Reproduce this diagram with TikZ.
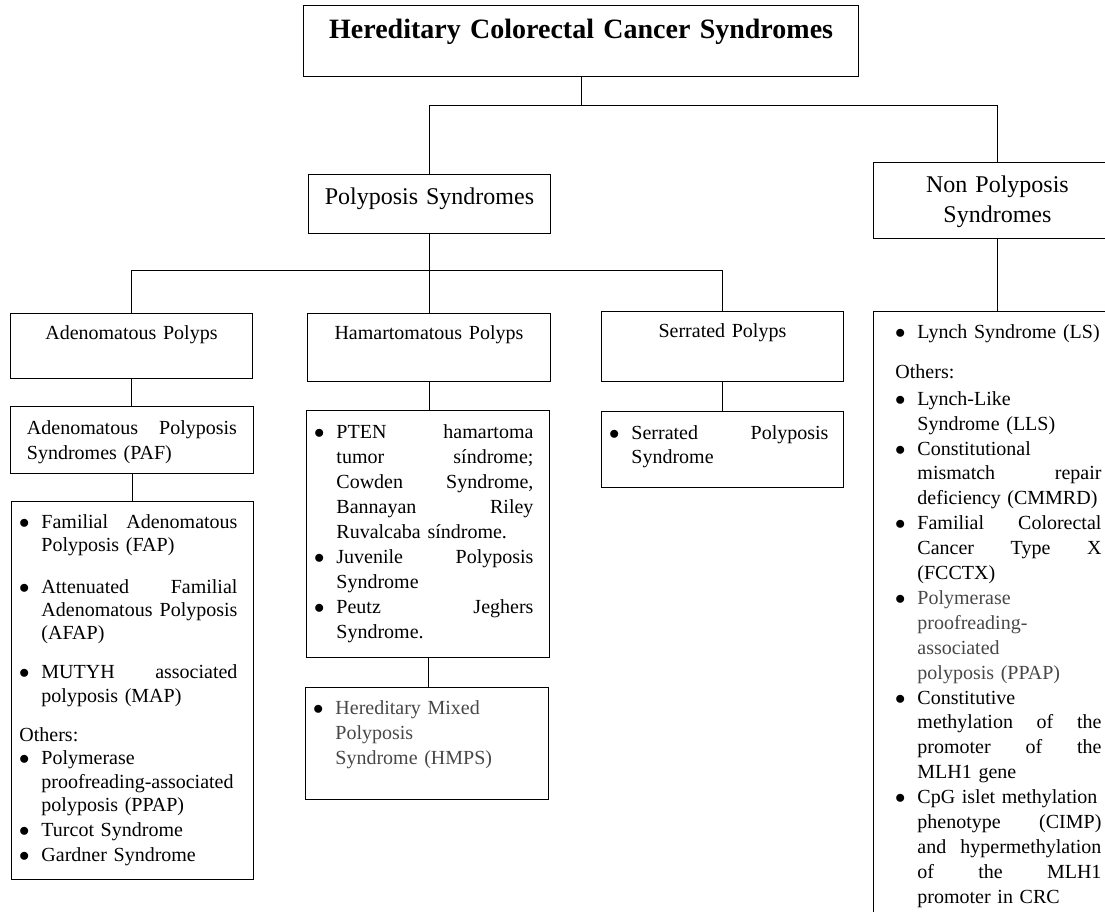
\documentclass[tikz,border=0pt]{standalone}
\usepackage{fontspec}
\setmainfont{Liberation Serif}
\usetikzlibrary{calc}

\definecolor{softtext}{gray}{0.28}
\newcommand{\bul}{\leavevmode\llap{\textcolor{black}{$\bullet$}\hspace{12pt}}}
\newcommand{\others}{\hspace*{-22pt}}
\newcommand{\setlistindent}[1]{\leftskip=#1\relax\hyphenpenalty=10000\exhyphenpenalty=10000\relax}

\tikzset{
  box/.style={draw, line width=0.9pt, anchor=north west, inner ysep=0pt,
    font=\fontsize{20}{25}\selectfont},
  headbox/.style={box, align=center, inner xsep=5pt},
  listbox/.style={box, align=left},
  link/.style={line width=0.9pt},
}

\begin{document}
\begin{tikzpicture}[x=1pt, y=-1pt]
        \useasboundingbox (0,0) rectangle (1105,912);

        % top levels
        \node[headbox, line width=1.2pt, text width=545pt, font=\fontsize{28}{32}\selectfont\bfseries,
          text height=33pt, text depth=38pt] (title) at (303,5) {Hereditary Colorectal Cancer Syndromes};
        \node[headbox, text width=232pt, font=\fontsize{24}{30}\selectfont,
          text height=30pt, text depth=29pt] (poly) at (308,174) {Polyposis Syndromes};
        \node[headbox, text width=238pt, font=\fontsize{24}{30}\selectfont,
          text height=30pt, text depth=46pt] (nonpoly) at (873,162) {Non Polyposis\\Syndromes};

        % polyp types
        \node[headbox, text width=232pt, text height=26pt, text depth=39pt] (adeno) at (10,313) {Adenomatous Polyps};
        \node[headbox, text width=233pt, text height=26pt, text depth=42pt] (hamar) at (307,313) {Hamartomatous Polyps};
        \node[headbox, text width=232pt, text height=26pt, text depth=44pt] (serr) at (601,311) {Serrated Polyps};

        \node[listbox, inner xsep=16.5pt, text width=210pt, text height=28pt, text depth=39pt] (paf) at (10,406)
          {Adenomatous\hfill Polyposis\\Syndromes (PAF)};

        % lists
        \node[listbox, inner xsep=16pt, text width=210pt, font=\fontsize{20}{23.3}\selectfont,
          text height=27pt, text depth=351pt] (adlist) at (11,501) {\setlistindent{14pt}%
          \bul Familial\hfill Adenomatous\\
          Polyposis (FAP)\\[18pt]
          \bul Attenuated\hfill Familial\\
          Adenomatous\hfill Polyposis\\
          (AFAP)\\[16pt]
          \bul MUTYH\hfill associated\\
          polyposis (MAP)\\[16pt]
          \others Others:\\
          \bul Polymerase\\
          proofreading-associated\\
          polyposis (PPAP)\\[1.5pt]
          \bul Turcot Syndrome\\[1.5pt]
          \bul Gardner Syndrome\par};

        \node[listbox, inner xsep=16pt, text width=211pt, text height=28pt, text depth=219pt] (pten) at (306,410)
          {\setlistindent{14pt}%
          \bul PTEN\hfill hamartoma\\
          tumor\hfill síndrome;\\
          Cowden\hfill Syndrome,\\
          Bannayan\hfill Riley\\
          Ruvalcaba síndrome.\\
          \bul Juvenile\hfill Polyposis\\
          Syndrome\\
          \bul Peutz\hfill Jeghers\\
          Syndrome.\par};

        \node[listbox, inner xsep=16pt, text width=211pt, text height=27pt, text depth=85pt, text=softtext] (hmps) at (305,687)
          {\setlistindent{14pt}%
          \bul Hereditary Mixed\\
          Polyposis\\
          Syndrome (HMPS)\par};

        \node[listbox, inner xsep=15pt, text width=212pt, font=\fontsize{20}{24.5}\selectfont,
          text height=28pt, text depth=48pt] (serlist) at (601,411)
          {\setlistindent{15pt}%
          \bul Serrated\hfill Polyposis\\
          Syndrome\par};

        \node[listbox, inner xsep=20pt, text width=208pt, font=\fontsize{20}{24.9}\selectfont,
          text height=27pt, text depth=622pt] (nplist) at (873,311)
          {\setlistindent{24pt}%
          \bul Lynch Syndrome (LS)\\[15pt]
          \others Others:\\[2pt]
          \bul Lynch-Like\\
          Syndrome (LLS)\\
          \bul Constitutional\\
          mismatch\hfill repair\\
          deficiency (CMMRD)\\
          \bul Familial\hfill Colorectal\\
          Cancer\hfill Type\hfill X\\
          (FCCTX)\\
          \bul\color{softtext}Polymerase\\
          proofreading-\\
          associated\\
          polyposis (PPAP)\\
          \color{black}\bul Constitutive\\
          methylation\hfill of\hfill the\\
          promoter\hfill of\hfill the\\
          MLH1 gene\\
          \bul CpG islet methylation\\
          phenotype\hfill (CIMP)\\
          and\hfill hypermethylation\\
          of\hfill the\hfill MLH1\\
          promoter in CRC\par};

        % connectors
        \draw[link] (title.south) -- ++(0,28) coordinate (top);
        \draw[link] (top) -| (poly.north);
        \draw[link] (top) -| (nonpoly.north);
        \draw[link] (poly.south) -- ++(0,37) coordinate (mid);
        \draw[link] (mid) -| (adeno.north);
        \draw[link] (mid) -| (hamar.north);
        \draw[link] (mid) -| (serr.north);
        \draw[link] (adeno.south) -- (adeno.south |- paf.north);
        \draw[link] (paf.south) -- (paf.south |- adlist.north);
        \draw[link] (hamar.south) -- (hamar.south |- pten.north);
        \draw[link] (pten.south) -- (pten.south |- hmps.north);
        \draw[link] (serr.south) -- (serr.south |- serlist.north);
        \draw[link] (nonpoly.south) -- (nonpoly.south |- nplist.north);
      \end{tikzpicture}
\end{document}
